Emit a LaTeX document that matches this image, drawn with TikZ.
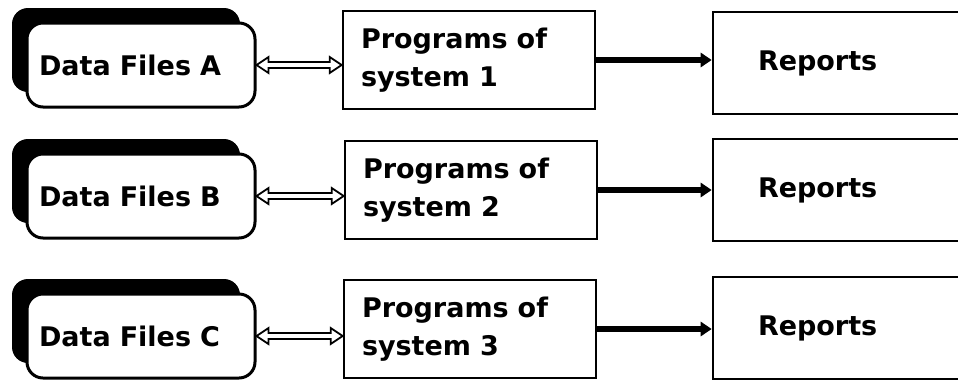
\documentclass[tikz,border=0pt]{standalone}
\usepackage{fontspec}
\newfontfamily\diagfont{DejaVu Sans}
\usetikzlibrary{arrows.meta,shadows,calc}
\begin{document}
\begin{tikzpicture}[x=1pt,y=-1pt,
  txt/.style={font=\diagfont\bfseries\fontsize{27}{38}\selectfont},
  databox/.style={draw, line width=3pt, fill=white, rounded corners=16pt,
    minimum width=228pt, minimum height=84pt, text width=204pt,
    inner xsep=12pt, inner ysep=0pt, align=left, txt,
    general shadow={fill=black, shadow xshift=-15pt, shadow yshift=15pt}},
  progbox/.style={draw, line width=2.6pt, fill=white, minimum height=98pt,
    text width=216pt, inner xsep=18pt, align=left, txt},
  repbox/.style={draw, line width=2.6pt, fill=white, minimum height=102pt,
    text width=170pt, inner xsep=45pt, align=left, txt},
  flow/.style={line width=5.5pt, -{Triangle[length=11pt,width=14pt]}},
  dbl/.style={line width=1.8pt, line join=miter, fill=white}
]
\useasboundingbox (0,0) rectangle (958,381);

% data files
\node[databox] (d1) at (141,65) {Data Files A};
\node[databox] (d2) at (141,196) {Data Files B};
\node[databox] (d3) at (141,336) {Data Files C};

% programs
\node[progbox] (p1) at (469,60) {Programs of\\system  1};
\node[progbox] (p2) at (471,190) {Programs of\\system  2};
\node[progbox] (p3) at (470,329) {Programs of\\system  3};

% reports
\node[repbox] (r1) at (843,63) {Reports};
\node[repbox] (r2) at (843,190) {Reports};
\node[repbox] (r3) at (843,328) {Reports};

% double (hollow) arrows
\foreach \d/\p in {d1/p1,d2/p2,d3/p3}{
  \coordinate (a) at (\d.east);
  \coordinate (b) at (\d.east -| \p.west);
  \draw[dbl] (a) -- ($(a)+(12,-8)$) -- ($(a)+(12,-3)$) -- ($(b)+(-12,-3)$)
    -- ($(b)+(-12,-8)$) -- (b) -- ($(b)+(-12,8)$) -- ($(b)+(-12,3)$)
    -- ($(a)+(12,3)$) -- ($(a)+(12,8)$) -- cycle;
}

% flow arrows
\draw[flow] (p1.east) -- (p1.east -| r1.west);
\draw[flow] (p2.east) -- (p2.east -| r2.west);
\draw[flow] (p3.east) -- (p3.east -| r3.west);
\end{tikzpicture}
\end{document}
